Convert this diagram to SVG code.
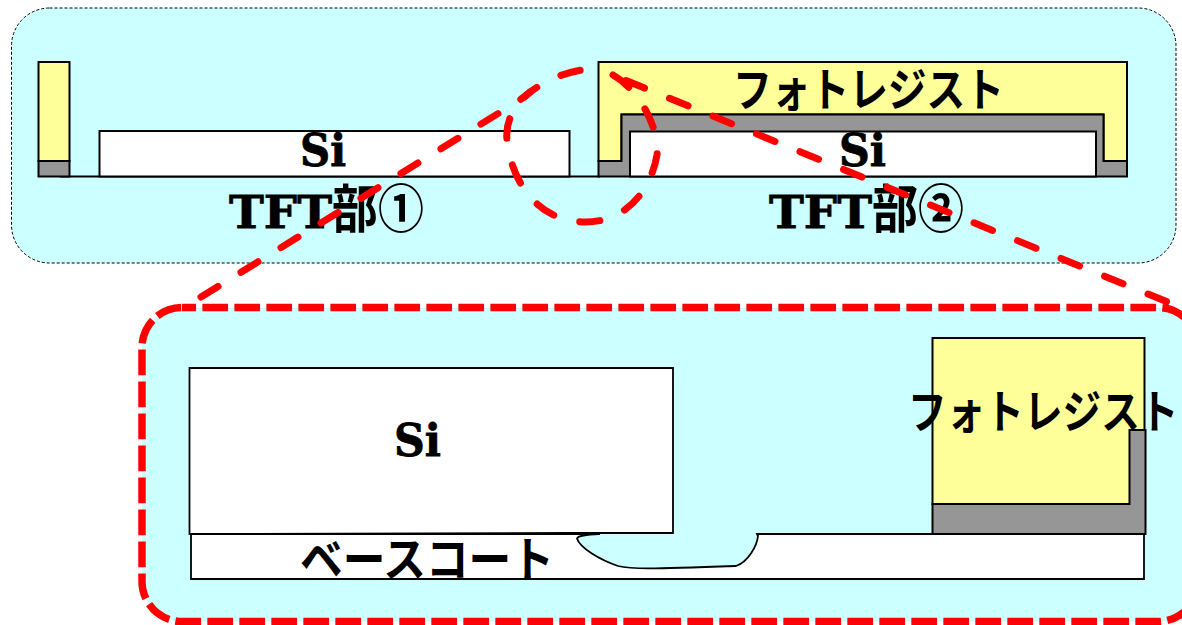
<svg xmlns="http://www.w3.org/2000/svg" width="1182" height="625" viewBox="0 0 1182 625">
<style>
.k{stroke:#000;stroke-width:2;stroke-linejoin:miter}
.y{fill:#ffff99}
.g{fill:#969696}
.w{fill:#fff}
.si{font-family:"DejaVu Serif","Liberation Serif",serif;font-weight:900;font-size:45px;fill:#000;stroke:#000;stroke-width:.8}
.jp{font-family:"Noto Sans CJK JP","Noto Sans",sans-serif;fill:#000;font-size:46px;font-weight:700}
.jb{font-size:47px}
.tft{font-family:"DejaVu Serif","Liberation Serif",serif;font-weight:bold;font-size:45px;stroke:#000;stroke-width:.8}
.cjk{font-family:"Noto Sans CJK JP","Noto Sans",sans-serif;font-size:52px;font-weight:700}
.red{fill:none;stroke:#ff0000;stroke-width:7;stroke-linecap:round;stroke-dasharray:20 27}
</style>
<g id="panel-top">
<rect x="11.5" y="8" width="1164.5" height="255" rx="38" fill="#ccffff" stroke="#000" stroke-width="1" stroke-dasharray="3 2"/>
</g>
<g id="tft-1">
<path class="k" d="M60,176.500H600" fill="none"/>
<rect class="k y" x="38.500" y="62" width="31" height="99"/>
<rect class="k g" x="38.500" y="161" width="31" height="15.500"/>
<rect class="k w" x="99.500" y="131" width="470" height="45.500"/>
<text class="si" x="300" y="166" textLength="46" lengthAdjust="spacingAndGlyphs">Si</text>
<text x="229" y="228" fill="#000"><tspan class="tft" textLength="103" lengthAdjust="spacingAndGlyphs">TFT</tspan><tspan class="cjk" textLength="92" lengthAdjust="spacingAndGlyphs">部①</tspan></text>
</g>
<g id="tft-2">
<path class="k y" d="M598.500,62H1127V161H1103.500V114.500H621.500V161H598.500Z"/>
<path class="k g" d="M598.500,161H621.500V114.500H1103.500V161H1127V176.500H598.500Z"/>
<rect class="k w" x="630" y="131.500" width="466" height="45"/>
<text class="jp" x="733" y="106" textLength="271" lengthAdjust="spacingAndGlyphs">フォトレジスト</text>
<text class="si" x="839" y="166" textLength="47" lengthAdjust="spacingAndGlyphs">Si</text>
<text x="769" y="228" fill="#000"><tspan class="tft" textLength="103" lengthAdjust="spacingAndGlyphs">TFT</tspan><tspan class="cjk" textLength="92" lengthAdjust="spacingAndGlyphs">部②</tspan></text>
</g>
<g id="connectors">
<path class="red" d="M201,297L520,100C535,88 550,75 587,69"/>
<path class="red" d="M626,80.500L1170,303"/>
<path class="red" d="M613,75C640,90 660,130 657,155C652,185 630,222 585,222C540,222 512,185 507,140C505,120 515,105 530,92"/>
</g>
<g id="panel-detail">
<rect x="142" y="307.500" width="1056" height="314" rx="40" fill="#ccffff" stroke="#ff0000" stroke-width="7.500" stroke-dasharray="25.700 6.300" stroke-dashoffset="11.600"/>
</g>
<g id="detail-base">
<path d="M191,534H600C590,534.500 578,535 577,538.500C580,548 600,560 618,566C632,569.500 650,569 736,566C748,562 757,546 758,536L757,534H1144V579H191Z" fill="#fff" stroke="#000" stroke-width="1.800"/>
<text class="jp jb" x="300" y="576" textLength="254" lengthAdjust="spacingAndGlyphs">ベースコート</text>
</g>
<g id="detail-si">
<path d="M189.500,368H673V533H570L189.500,534Z" fill="#fff" stroke="#000" stroke-width="1.800"/>
<text class="si" x="394" y="456" textLength="47" lengthAdjust="spacingAndGlyphs">Si</text>
</g>
<g id="detail-resist">
<rect class="k y" x="932.500" y="338" width="212" height="166"/>
<path class="k g" d="M932.500,504H1129.500V430H1145.500V534H932.500Z"/>
<text class="jp" transform="translate(908,428) scale(.84,1)">フォトレジスト</text>
</g>
</svg>
